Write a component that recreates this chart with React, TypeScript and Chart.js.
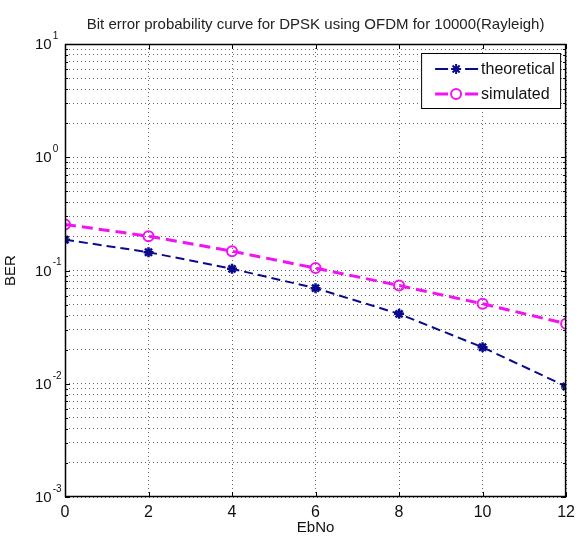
import React, { useEffect, useRef } from 'react';
import { Chart, registerables } from 'chart.js';

Chart.register(...registerables);

const ebNo = [0, 2, 4, 6, 8, 10, 12];
const theoretical = [0.187, 0.145, 0.1035, 0.0698, 0.0414, 0.021, 0.00946];
const simulated = [0.255, 0.201, 0.148, 0.105, 0.0737, 0.0508, 0.0339];
const xTicks = [0, 2, 4, 6, 8, 10, 12];
const yExponents = [1, 0, -1, -2, -3];
const seriesNames = ['theoretical', 'simulated'];
const titleText = 'Bit error probability curve for DPSK using OFDM for 10000(Rayleigh)';
const xLabel = 'EbNo';
const yLabel = 'BER';

const FONT = '"Liberation Sans", Arial, sans-serif';
const BLUE = 'rgb(10,10,140)';
const MAGENTA = 'rgb(240,20,240)';

function drawStar(ctx: CanvasRenderingContext2D, x: number, y: number, r: number) {
  ctx.beginPath();
  for (let i = 0; i < 4; i++) {
    const a = (i * Math.PI) / 4;
    ctx.moveTo(x - r * Math.cos(a), y - r * Math.sin(a));
    ctx.lineTo(x + r * Math.cos(a), y + r * Math.sin(a));
  }
  ctx.stroke();
}

const decor = {
  id: 'decor',
  afterDatasetsDraw(chart: any) {
    const { ctx, chartArea: a, scales } = chart;
    const xs = scales.x;
    const ys = scales.y;
    ctx.save();
    ctx.setLineDash([]);
    ctx.strokeStyle = '#000';
    ctx.lineWidth = 1;
    // inward tick marks
    ctx.beginPath();
    xs.ticks.forEach((t: any) => {
      const px = Math.round(xs.getPixelForValue(t.value)) + 0.5;
      ctx.moveTo(px, a.bottom);
      ctx.lineTo(px, a.bottom - 5);
      ctx.moveTo(px, a.top);
      ctx.lineTo(px, a.top + 5);
    });
    ys.ticks.forEach((t: any) => {
      const py = Math.round(ys.getPixelForValue(t.value)) + 0.5;
      const major = Math.abs(Math.log10(t.value) - Math.round(Math.log10(t.value))) < 1e-6;
      const len = major ? 5 : 3;
      ctx.moveTo(a.left, py);
      ctx.lineTo(a.left + len, py);
      ctx.moveTo(a.right, py);
      ctx.lineTo(a.right - len, py);
    });
    ctx.stroke();
    // frame
    ctx.lineWidth = 1.5;
    ctx.strokeRect(a.left + 0.5, a.top + 0.5, a.right - a.left - 1, a.bottom - a.top - 1);

    // y tick labels 10^e
    ctx.fillStyle = '#111';
    ctx.textBaseline = 'middle';
    ctx.textAlign = 'left';
    yExponents.forEach((e) => {
      const py = ys.getPixelForValue(Math.pow(10, e));
      ctx.font = `15px ${FONT}`;
      ctx.fillText('10', 35, py + 1);
      const w = ctx.measureText('10').width;
      ctx.font = `10px ${FONT}`;
      ctx.fillText(String(e), 35 + w + 1, py - 8);
    });

    // legend
    const lx = a.right - 145;
    const ly = a.top + 9;
    const lw = 139;
    const lh = 55;
    ctx.fillStyle = '#fff';
    ctx.fillRect(lx, ly, lw, lh);
    ctx.lineWidth = 1;
    ctx.strokeStyle = '#000';
    ctx.strokeRect(lx + 0.5, ly + 0.5, lw, lh);
    chart.data.datasets.forEach((ds: any, i: number) => {
      const cy = ly + 16 + i * 25;
      ctx.strokeStyle = ds.borderColor;
      ctx.lineWidth = ds.borderWidth;
      ctx.setLineDash([13, 17]);
      ctx.beginPath();
      ctx.moveTo(lx + 14, cy);
      ctx.lineTo(lx + 57, cy);
      ctx.stroke();
      ctx.setLineDash([]);
      ctx.lineWidth = 2;
      const mx = lx + 35;
      if (ds.pointStyle === 'star') {
        drawStar(ctx, mx, cy, 5);
      } else {
        ctx.beginPath();
        ctx.arc(mx, cy, 5, 0, Math.PI * 2);
        ctx.stroke();
      }
      ctx.fillStyle = '#111';
      ctx.font = `16px ${FONT}`;
      ctx.textAlign = 'left';
      ctx.textBaseline = 'middle';
      ctx.fillText(ds.label, lx + 60, cy + 1);
    });
    ctx.restore();
  },
};

export default function App() {
  const ref = useRef<HTMLCanvasElement>(null);
  useEffect(() => {
    if (!ref.current) return;
    const chart = new Chart(ref.current, {
      type: 'line',
      data: {
        datasets: [
          {
            label: seriesNames[0],
            data: ebNo.map((x, i) => ({ x, y: theoretical[i] })),
            borderColor: BLUE,
            backgroundColor: BLUE,
            borderWidth: 2,
            borderDash: [9, 5],
            pointStyle: 'star',
            pointRadius: 5,
            pointBorderWidth: 2.5,
            pointBorderColor: BLUE,
            tension: 0,
          },
          {
            label: seriesNames[1],
            data: ebNo.map((x, i) => ({ x, y: simulated[i] })),
            borderColor: MAGENTA,
            backgroundColor: 'rgba(0,0,0,0)',
            borderWidth: 3,
            borderDash: [11, 6],
            pointStyle: 'circle',
            pointRadius: 5,
            pointBorderWidth: 2,
            pointBorderColor: MAGENTA,
            pointBackgroundColor: 'rgba(0,0,0,0)',
            tension: 0,
          },
        ],
      },
      options: {
        animation: false,
        responsive: false,
        devicePixelRatio: 1,
        layout: { padding: { left: 0, right: 8, top: 0, bottom: 0 } },
        plugins: {
          legend: { display: false },
          tooltip: { enabled: false },
          title: {
            display: true,
            text: titleText,
            fullSize: false,
            color: '#222',
            font: { family: FONT, size: 15, weight: 'normal' },
            padding: { top: 16, bottom: 10 },
          },
        },
        scales: {
          x: {
            type: 'linear',
            min: xTicks[0],
            max: xTicks[xTicks.length - 1],
            afterBuildTicks: (s: any) => {
              s.ticks = xTicks.map((v) => ({ value: v }));
            },
            afterFit: (s: any) => {
              s.height = 44;
            },
            ticks: {
              color: '#111',
              font: { family: FONT, size: 16 },
              padding: 6,
              maxRotation: 0,
              autoSkip: false,
            },
            grid: { color: 'rgba(0,0,0,0.6)', drawTicks: false, lineWidth: 1 },
            border: { display: false, dash: [1, 3] },
            title: {
              display: true,
              text: xLabel,
              color: '#111',
              font: { family: FONT, size: 15 },
              padding: { top: 0, bottom: 4 },
            },
          },
          y: {
            type: 'logarithmic',
            min: Math.pow(10, Math.min(...yExponents)),
            max: Math.pow(10, Math.max(...yExponents)),
            afterBuildTicks: (s: any) => {
              const lo = Math.min(...yExponents);
              const hi = Math.max(...yExponents);
              const t: any[] = [];
              for (let e = lo; e < hi; e++) {
                for (let m = 1; m <= 9; m++) t.push({ value: m * Math.pow(10, e) });
              }
              t.push({ value: Math.pow(10, hi) });
              s.ticks = t;
            },
            afterFit: (s: any) => {
              s.width = 65;
            },
            ticks: { display: false, autoSkip: false },
            grid: { color: 'rgba(0,0,0,0.6)', drawTicks: false, lineWidth: 1 },
            border: { display: false, dash: [1, 3] },
            title: {
              display: true,
              text: yLabel,
              color: '#111',
              font: { family: FONT, size: 15 },
              padding: { top: 2, bottom: 0 },
            },
          },
        },
      },
      plugins: [decor],
    });
    return () => chart.destroy();
  }, []);
  return (
    <div style={{ position: 'fixed', left: 0, top: 0, width: 581, height: 541, background: '#fff' }}>
      <canvas ref={ref} width={581} height={541} style={{ display: 'block' }} />
    </div>
  );
}
